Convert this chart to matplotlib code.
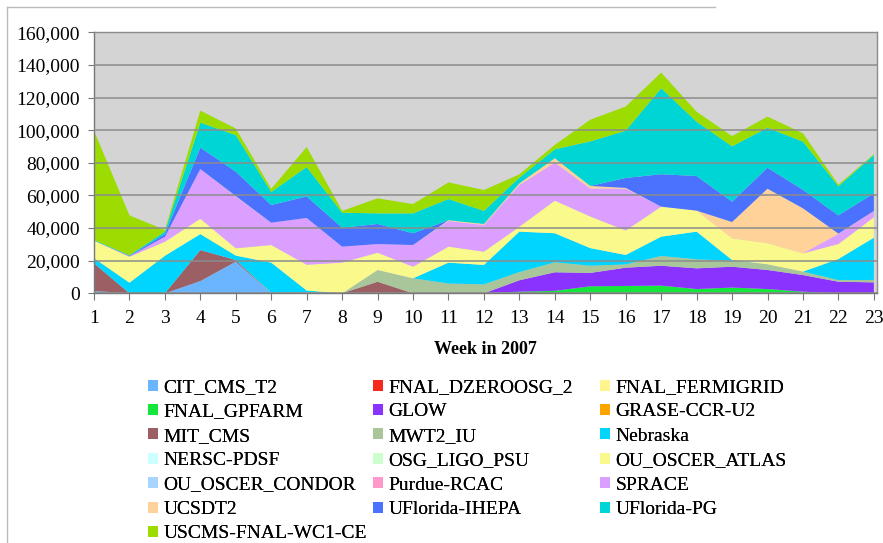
import numpy as np
import matplotlib
matplotlib.use("Agg")
import matplotlib.pyplot as plt
from matplotlib.patches import Patch
from matplotlib.ticker import FuncFormatter, MultipleLocator

plt.rcParams['font.family'] = ['Liberation Serif', 'DejaVu Serif']

weeks = list(range(1, 24))

sites = ["CIT_CMS_T2", "FNAL_DZEROOSG_2", "FNAL_FERMIGRID", "FNAL_GPFARM", "GLOW",
         "GRASE-CCR-U2", "MIT_CMS", "MWT2_IU", "Nebraska", "NERSC-PDSF",
         "OSG_LIGO_PSU", "OU_OSCER_ATLAS", "OU_OSCER_CONDOR", "Purdue-RCAC", "SPRACE",
         "UCSDT2", "UFlorida-IHEPA", "UFlorida-PG", "USCMS-FNAL-WC1-CE"]

colors = ["#6BB5FF", "#F5281E", "#FFF58C", "#14E63C", "#8A33FF",
          "#FFA500", "#9C6064", "#A9C59A", "#00D5FF", "#CCFFFF",
          "#CCFFCC", "#FAFA8C", "#A8D5FF", "#FF99CC", "#DBA0FF",
          "#FFD299", "#4A72FF", "#00D5D5", "#9CDC00"]

# weekly values per site (weeks 1..23)
cit_cms_t2      = [1400, 0, 0, 7500, 19400, 0, 0, 0, 0, 0, 0, 0, 0, 0, 0, 0, 0, 0, 0, 0, 0, 0, 0]
fnal_dzeroosg_2 = [0] * 23
fnal_fermigrid  = [0] * 23
fnal_gpfarm     = [0, 0, 0, 0, 0, 0, 0, 0, 0, 0, 0, 0, 1000, 1500, 4300, 4500, 4700, 2600, 3500, 2600, 1000, 0, 0]
glow            = [0, 0, 0, 0, 0, 0, 0, 0, 0, 0, 0, 0, 7000, 11400, 8200, 11200, 12200, 12700, 12800, 11700, 10200, 7100, 6700]
grase_ccr_u2    = [0] * 23
mit_cms         = [17000, 0, 0, 19000, 1000, 0, 0, 0, 7100, 0, 0, 0, 0, 0, 0, 0, 0, 0, 0, 0, 0, 0, 0]
mwt2_iu         = [0, 0, 0, 0, 0, 300, 700, 0, 7200, 9200, 6000, 5500, 5000, 6100, 4400, 2000, 6000, 5500, 3800, 3500, 2100, 1000, 1500]
nebraska        = [3100, 6500, 23000, 9800, 2700, 18500, 1000, 0, 0, 0, 12800, 11900, 24800, 17800, 10800, 5800, 11800, 17000, 300, 0, 0, 12900, 25900]
nersc_pdsf      = [0] * 23
osg_ligo_psu    = [0] * 23
ou_oscer_atlas  = [10800, 15900, 8600, 9400, 4500, 10800, 15800, 18800, 10600, 7100, 9800, 8100, 3000, 20000, 19400, 15000, 18400, 12900, 13300, 12900, 11200, 9200, 12500]
ou_oscer_condor = [0] * 23
purdue_rcac     = [0] * 23
sprace          = [0, 300, 3100, 30500, 31700, 13700, 28700, 9800, 5300, 13300, 15700, 16400, 25600, 23300, 17200, 25600, 0, 0, 0, 0, 0, 6200, 3900]
ucsdt2          = [0, 0, 0, 0, 300, 0, 0, 0, 0, 0, 500, 600, 1000, 2700, 1500, 500, 0, 0, 10000, 33400, 27600, 200, 0]
uflorida_ihepa  = [0, 300, 1600, 13100, 15000, 10800, 13200, 11600, 12300, 7200, 0, 0, 0, 0, 0, 6100, 19900, 21200, 12500, 12900, 11300, 11200, 10800]
uflorida_pg     = [400, 300, 1500, 15300, 22400, 8000, 18000, 9200, 6500, 12200, 13000, 8000, 3500, 5500, 27300, 29000, 52700, 33300, 33900, 24500, 29600, 17800, 23500]
uscms_fnal_wc1  = [67000, 24500, 1000, 7400, 4000, 1900, 12300, 1100, 9200, 5700, 10200, 12800, 2000, 2700, 13300, 14800, 9600, 6100, 6300, 6800, 5100, 1000, 500]

series = [cit_cms_t2, fnal_dzeroosg_2, fnal_fermigrid, fnal_gpfarm, glow,
          grase_ccr_u2, mit_cms, mwt2_iu, nebraska, nersc_pdsf,
          osg_ligo_psu, ou_oscer_atlas, ou_oscer_condor, purdue_rcac, sprace,
          ucsdt2, uflorida_ihepa, uflorida_pg, uscms_fnal_wc1]

fig = plt.figure(figsize=(8.83, 5.43), dpi=100)
ax = fig.add_axes([94 / 883, 1 - 293.3 / 543, (876.7 - 94) / 883, 261 / 543])
ax.set_facecolor("#D4D4D4")

ax.stackplot(weeks, np.array(series, dtype=float), colors=colors, linewidth=0)

ax.set_xlim(1, 23.08)
ax.set_ylim(0, 160000)
ax.yaxis.set_major_locator(MultipleLocator(20000))
ax.yaxis.set_major_formatter(FuncFormatter(lambda v, p: "{:,}".format(int(v))))
ax.set_xticks(weeks)
ax.grid(axis="y", color="#8C8C8C", linewidth=1.1)
ax.set_axisbelow(False)
for g in ax.get_ygridlines():
    g.set_zorder(0.5)

for s in ax.spines.values():
    s.set_color("#8C8C8C")
    s.set_linewidth(1.0)
ax.spines["left"].set_color("#777777")
ax.spines["bottom"].set_color("#777777")

ax.tick_params(axis="y", labelsize=14, length=4, color="#777777", pad=6)
ax.tick_params(axis="x", labelsize=14, length=5, color="#777777", pad=7)
ax.set_xlabel("Week in 2007", fontsize=13, fontweight="bold", labelpad=10)

# legend: three columns filled row by row, like the original
handles = [Patch(facecolor=c, edgecolor="none") for c in colors]
col_x = [148, 373, 600]
for k in range(3):
    idx = list(range(k, 19, 3))
    leg = fig.legend([handles[i] for i in idx], [sites[i] for i in idx],
                     loc="upper left", bbox_to_anchor=(col_x[k] / 883, 1 - 379 / 543),
                     frameon=False, fontsize=14, handlelength=0.5,
                     handleheight=0.5, handletextpad=0.3, labelspacing=0.38,
                     borderpad=0, borderaxespad=0)
    fig.add_artist(leg)

# outer frame of the chart object
fig.add_artist(plt.Line2D([7 / 883, 715 / 883], [1 - 7 / 543, 1 - 7 / 543],
                          color="#BBBBBB", linewidth=1))
fig.add_artist(plt.Line2D([7 / 883, 7 / 883], [1 - 7 / 543, 0],
                          color="#BBBBBB", linewidth=1))

fig.savefig("out.png", dpi=100)
